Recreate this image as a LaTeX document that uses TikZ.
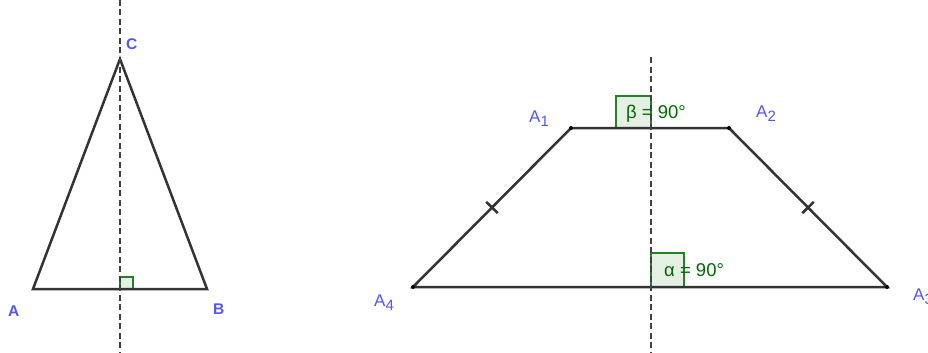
\documentclass[tikz,border=0pt]{standalone}
\usepackage{fontspec}
\setmainfont{Liberation Sans}
\usetikzlibrary{calc}
\definecolor{ptblue}{RGB}{85,85,245}
\definecolor{anggreen}{RGB}{0,105,0}
\definecolor{angfill}{RGB}{228,240,228}
\newcommand{\sbs}[1]{\raisebox{-0.55ex}{\fontsize{15}{15}\selectfont #1}}
\tikzset{
  seg/.style={line width=2.5pt, draw=black!80},
  axis/.style={line width=2.8pt, draw=black!75, dash pattern=on 6pt off 3.5pt},
  vlabel/.style={text=ptblue, font=\fontsize{17}{17}\selectfont, inner sep=0pt, anchor=base west},
  alabel/.style={text=anggreen, font=\fontsize{18.5}{18}\selectfont, inner sep=0pt, anchor=base west},
  rbox/.style={draw=anggreen!85, line width=2.4pt, fill=angfill},
  dotpt/.style={circle, fill=black, inner sep=0pt, minimum size=4pt},
}
\begin{document}
\begin{tikzpicture}[x=1pt,y=-1pt]
\useasboundingbox (0,0) rectangle (928,353);
% left triangle
\coordinate (A) at (33,289);
\coordinate (B) at (207,289);
\coordinate (C) at (120,59);
\coordinate (M) at (120,289);
\coordinate (ax1) at (120,0);
\coordinate (ax2) at (120,353);
\draw[rbox, line width=2pt] (M) rectangle ++(13,-12);
\draw[seg] (A) -- (B) -- (C) -- cycle;
\draw[axis] (ax1) -- (ax2);
\node[vlabel, font=\bfseries\fontsize{15.5}{15}\selectfont] (lC) at (126,49) {C};
\node[vlabel, font=\bfseries\fontsize{15.5}{15}\selectfont] (lA) at (8,316) {A};
\node[vlabel, font=\bfseries\fontsize{15.5}{15}\selectfont] (lB) at (213,314) {B};
% right trapezoid
\coordinate (A1) at (571,128);
\coordinate (A2) at (729,128);
\coordinate (A3) at (887,287);
\coordinate (A4) at (413,287);
\coordinate (bx1) at (651,57);
\coordinate (bx2) at (651,353);
\draw[rbox] (616,96) rectangle (651,128);
\draw[rbox] (651,253) rectangle (684,287);
\draw[seg] (A4) -- (A1) -- (A2) -- (A3) -- cycle;
\draw[axis] (bx1) -- (bx2);
% tick marks
\coordinate (m1) at ($(A4)!0.5!(A1)$);
\coordinate (m2) at ($(A2)!0.5!(A3)$);
\draw[seg] ($(m1)!8pt!90:(A1)$) -- ($(m1)!8pt!-90:(A1)$);
\draw[seg] ($(m2)!8pt!90:(A3)$) -- ($(m2)!8pt!-90:(A3)$);
\node[dotpt] (d1) at (A1) {};
\node[dotpt] (d2) at (A2) {};
\node[dotpt] (d3) at (A3) {};
\node[dotpt] (d4) at (A4) {};
\node[alabel] (lb) at (626,118) {β = 90°};
\node[alabel] (la) at (664,276) {α = 90°};
\node[vlabel] (l1) at (529,122) {A\sbs{1}};
\node[vlabel] (l2) at (756,117) {A\sbs{2}};
\node[vlabel] (l4) at (374,306) {A\sbs{4}};
\node[vlabel] (l3) at (913,300) {A\sbs{3}};
\end{tikzpicture}
\end{document}
